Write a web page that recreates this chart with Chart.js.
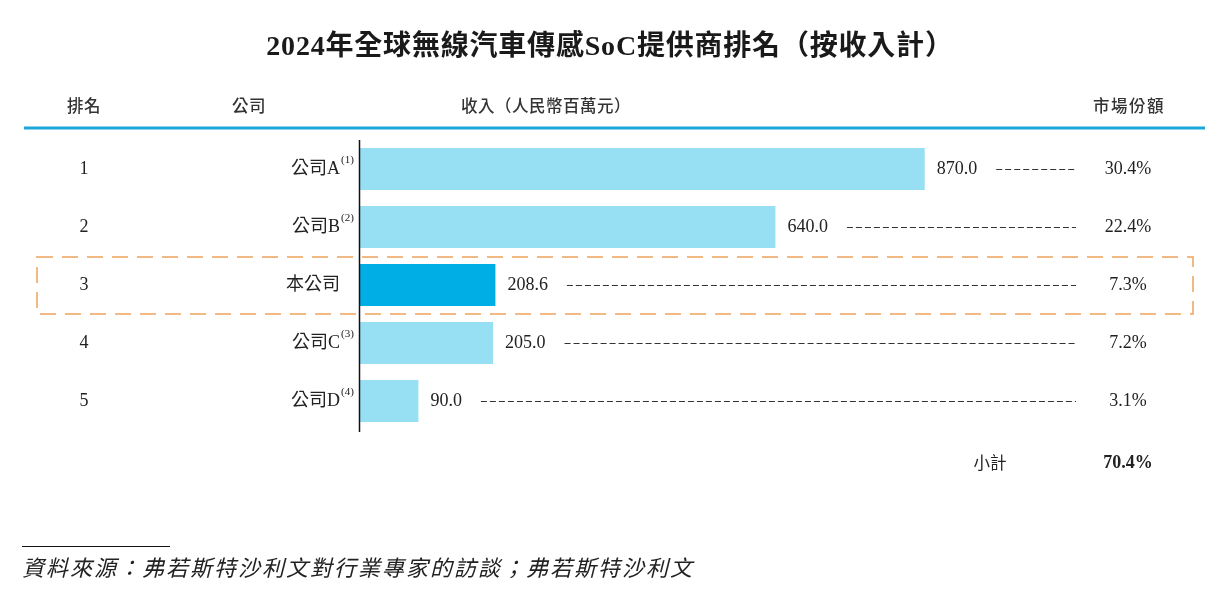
<!DOCTYPE html>
<html>
<head>
<meta charset="utf-8">
<script src="https://cdn.jsdelivr.net/npm/chart.js@4/dist/chart.umd.min.js"></script>
<style>
  html, body { margin: 0; padding: 0; background: #fff; }
  canvas { display: block; }
</style>
</head>
<body>
<canvas id="chart" width="1220" height="592"></canvas>
<script>
const title = "2024年全球無線汽車傳感SoC提供商排名（按收入計）";
const headers = ["排名", "公司", "收入（人民幣百萬元）", "市場份額"];
const ranks = ["1", "2", "3", "4", "5"];
const companies = ["公司A", "公司B", "本公司", "公司C", "公司D"];
const notes = ["(1)", "(2)", "", "(3)", "(4)"];
const revenue = [870.0, 640.0, 208.6, 205.0, 90.0];
const shares = ["30.4%", "22.4%", "7.3%", "7.2%", "3.1%"];
const subtotalLabel = "小計";
const subtotalShare = "70.4%";
const highlightIndex = 2;
const source = "資料來源：弗若斯特沙利文對行業專家的訪談；弗若斯特沙利文";

const SERIF = "'Liberation Serif', 'Noto Sans CJK TC', serif";
const SANS = "'Noto Sans CJK TC', sans-serif";

const decorPlugin = {
    id: "decor",
    afterDatasetsDraw(chart) {
        const ctx = chart.ctx;
        const xs = chart.scales.x;
        const ys = chart.scales.y;
        const area = chart.chartArea;
        ctx.save();

        // title
        ctx.fillStyle = "#1a1a1a";
        ctx.textAlign = "center";
        ctx.textBaseline = "middle";
        ctx.font = "bold 28px " + SERIF;
        ctx.letterSpacing = "0.8px";
        ctx.fillText(title, 610, 48);
        ctx.letterSpacing = "0px";

        // headers
        ctx.font = "500 16.5px " + SANS;
        ctx.fillStyle = "#333";
        ctx.letterSpacing = "0.5px";
        ctx.fillText(headers[0], 84, 106);
        ctx.fillText(headers[1], 249, 106);
        ctx.textAlign = "left";
        ctx.fillText(headers[2], 461, 106);
        ctx.textAlign = "center";
        ctx.letterSpacing = "1.5px";
        ctx.fillText(headers[3], 1129, 106);
        ctx.letterSpacing = "0px";

        ctx.strokeStyle = "#1ba8d8";
        ctx.lineWidth = 3;
        ctx.beginPath();
        ctx.moveTo(24, 128);
        ctx.lineTo(1205, 128);
        ctx.stroke();

        // axis line
        const x0 = xs.getPixelForValue(0) - 0.5;
        ctx.strokeStyle = "#111";
        ctx.lineWidth = 1.5;
        ctx.beginPath();
        ctx.moveTo(x0, area.top);
        ctx.lineTo(x0, area.bottom + 2);
        ctx.stroke();

        const leaderEnd = 1076;
        companies.forEach((name, i) => {
            const y = ys.getPixelForValue(i);
            ctx.fillStyle = "#222";
            ctx.textBaseline = "middle";

            ctx.font = "18px " + SERIF;
            ctx.textAlign = "center";
            ctx.fillText(ranks[i], 84, y);

            ctx.textAlign = "right";
            ctx.fillText(name, 340, y);
            if (notes[i]) {
                ctx.font = "11px " + SERIF;
                ctx.textAlign = "left";
                ctx.fillText(notes[i], 341, y - 9);
            }

            ctx.font = "18px " + SERIF;
            ctx.textAlign = "left";
            const vx = xs.getPixelForValue(revenue[i]) + 12;
            const label = revenue[i].toFixed(1);
            ctx.fillText(label, vx, y);
            const lx = vx + ctx.measureText(label).width + 19;

            ctx.strokeStyle = "#333";
            ctx.lineWidth = 1;
            ctx.setLineDash([6, 3]);
            ctx.beginPath();
            ctx.moveTo(lx, y + 0.5);
            ctx.lineTo(leaderEnd, y + 0.5);
            ctx.stroke();
            ctx.setLineDash([]);

            ctx.textAlign = "center";
            ctx.fillText(shares[i], 1128, y);
        });

        // highlight box
        const hy = ys.getPixelForValue(highlightIndex);
        ctx.strokeStyle = "#f0a35c";
        ctx.lineWidth = 1.5;
        ctx.setLineDash([16, 9]);
        ctx.strokeRect(37, hy - 28, 1156, 57);
        ctx.setLineDash([]);

        // subtotal
        ctx.fillStyle = "#222";
        ctx.font = "16.5px " + SANS;
        ctx.textAlign = "center";
        ctx.fillText(subtotalLabel, 990, 463);
        ctx.font = "bold 18px " + SERIF;
        ctx.fillText(subtotalShare, 1128, 463);

        // source
        ctx.strokeStyle = "#111";
        ctx.lineWidth = 1;
        ctx.beginPath();
        ctx.moveTo(22, 546.5);
        ctx.lineTo(170, 546.5);
        ctx.stroke();
        ctx.font = "italic 22px " + SANS;
        ctx.textAlign = "left";
        ctx.letterSpacing = "2px";
        ctx.fillStyle = "#222";
        ctx.fillText(source, 22, 568);
        ctx.letterSpacing = "0px";

        ctx.restore();
    }
};

new Chart(document.getElementById("chart"), {
    type: "bar",
    data: {
        labels: companies,
        datasets: [{
            data: revenue,
            backgroundColor: revenue.map((v, i) => i === highlightIndex ? "#00aee6" : "#97e0f4"),
            borderWidth: 0,
            categoryPercentage: 1,
            barPercentage: 0.724,
        }],
    },
    options: {
        indexAxis: "y",
        responsive: false,
        animation: false,
        devicePixelRatio: 1,
        layout: { padding: { left: 360, right: 146, top: 140, bottom: 162 } },
        scales: {
            x: { display: false, min: 0, max: 1100 },
            y: { display: false },
        },
        plugins: {
            legend: { display: false },
            tooltip: { enabled: false },
        },
    },
    plugins: [decorPlugin],
});
</script>
</body>
</html>
